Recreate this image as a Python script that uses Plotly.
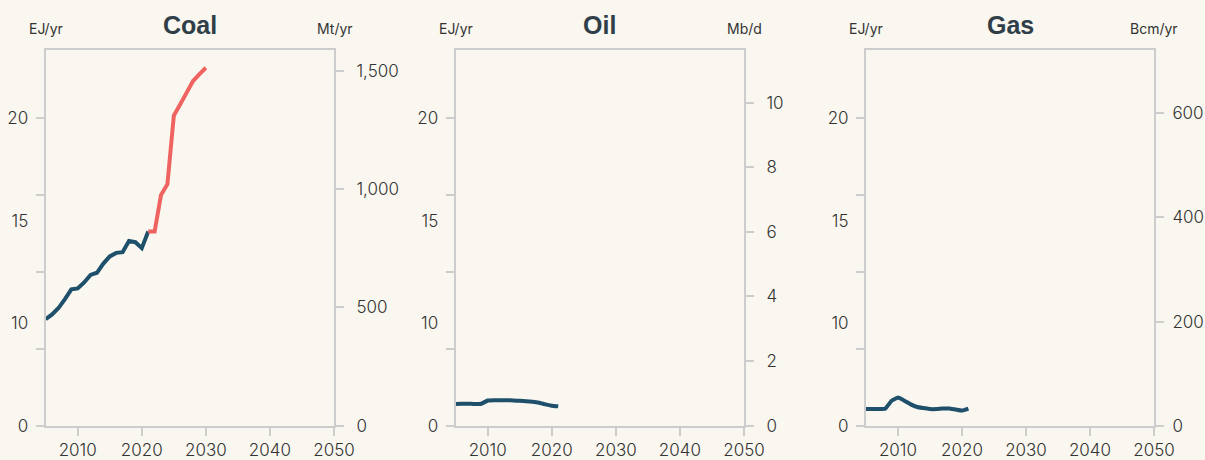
import plotly.graph_objects as go

# ---------------- data ----------------
coal_hist_years = list(range(2005, 2022))
coal_hist_mt = [450, 470, 497, 535, 576, 580, 605, 637, 646, 685, 715, 730, 733, 780, 775, 750, 820]
coal_proj_years = list(range(2021, 2031))
coal_proj_mt = [820, 820, 975, 1020, 1310, 1358, 1407, 1456, 1485, 1512]

oil_years = list(range(2005, 2022))
oil_mbd = [0.67, 0.68, 0.68, 0.67, 0.68, 0.78, 0.79, 0.79, 0.79, 0.78, 0.77, 0.76, 0.74, 0.71, 0.66, 0.62, 0.60]

gas_years = list(range(2005, 2022))
gas_bcm = [32, 32, 32, 32.5, 48, 54, 48, 41, 36, 34, 32, 32, 33, 33, 31, 29, 33]

panel_titles = ["Coal", "Oil", "Gas"]
left_units = ["EJ/yr", "EJ/yr", "EJ/yr"]
right_units = ["Mt/yr", "Mb/d", "Bcm/yr"]
x_ticks = [2010, 2020, 2030, 2040, 2050]
left_tick_marks = [0, 5, 10, 15, 20]
left_label_vals = [0, 20 / 3, 40 / 3, 20]
left_label_text = ["0", "10", "15", "20"]
right_ticks = [[0, 500, 1000, 1500], [0, 2, 4, 6, 8, 10], [0, 200, 400, 600]]
right_ranges = [1587, 11.63, 721.7]
left_range = 24.44

# ---------------- style ----------------
W, H = 1205, 460
BG = "#f9f7ef"
AX = "#cdcdcd"
TXT = "#333333"
TITLE = "#2f3e48"
BLUE = "#1e4f6b"
RED = "#ef6461"
TICKFONT = dict(family="Inter", size=17, color=TXT, weight=300)

x_px = [(45.7, 334.0), (455.7, 744.0), (866.0, 1154.0)]
right_unit_offset = [21, 20, 26]
right_standoff = [9, 9, 5]
y_top, y_bot = 50.0, 425.7
ydom = [(H - y_bot) / H, (H - y_top) / H]

fig = go.Figure()

series = [
    [(coal_hist_years, coal_hist_mt, BLUE), (coal_proj_years, coal_proj_mt, RED)],
    [(oil_years, oil_mbd, BLUE)],
    [(gas_years, gas_bcm, BLUE)],
]

layout = dict(
    width=W, height=H,
    paper_bgcolor=BG, plot_bgcolor=BG,
    margin=dict(l=0, r=0, t=0, b=0, autoexpand=False),
    showlegend=False,
    annotations=[],
)


def yname(k):
    return "yaxis" if k == 1 else f"yaxis{k}"


def yref(k):
    return "y" if k == 1 else f"y{k}"


for i in range(3):
    n = i + 1
    xa = "xaxis" if n == 1 else f"xaxis{n}"
    xref = "x" if n == 1 else f"x{n}"
    k_marks = 3 * i + 1
    k_right = 3 * i + 2
    k_labels = 3 * i + 3
    x0, x1 = x_px[i]
    dom = [x0 / W, x1 / W]

    layout[xa] = dict(
        domain=dom, range=[2005, 2050], anchor=yref(k_marks), automargin=False,
        tickvals=x_ticks, ticks="outside", ticklen=8, tickcolor=AX, tickwidth=2,
        showline=True, linecolor=AX, linewidth=2, mirror=True,
        showgrid=False, zeroline=False, tickfont=TICKFONT, ticklabelstandoff=0,
    )
    # left axis: tick marks only
    layout[yname(k_marks)] = dict(
        domain=ydom, range=[0, left_range], anchor=xref, automargin=False,
        tickmode="array", tickvals=left_tick_marks, showticklabels=False,
        ticks="outside", ticklen=8, tickcolor=AX, tickwidth=1.5,
        showline=True, linecolor=AX, linewidth=2,
        showgrid=False, zeroline=False,
    )
    # right axis
    layout[yname(k_right)] = dict(
        domain=ydom, range=[0, right_ranges[i]], anchor=xref, overlaying=yref(k_marks), side="right",
        automargin=False,
        tickmode="array", tickvals=right_ticks[i], tickformat=",d", ticks="outside", ticklen=8,
        tickcolor=AX, tickwidth=1.5,
        showline=True, linecolor=AX, linewidth=2,
        showgrid=False, zeroline=False, tickfont=TICKFONT, ticklabelstandoff=right_standoff[i],
    )
    # left axis: labels only
    layout[yname(k_labels)] = dict(
        domain=ydom, range=[0, left_range], anchor=xref, overlaying=yref(k_marks), side="left",
        automargin=False,
        tickmode="array", tickvals=left_label_vals, ticktext=left_label_text,
        ticks="outside", ticklen=8, tickcolor="rgba(0,0,0,0)",
        showline=False, showgrid=False, zeroline=False, tickfont=TICKFONT, ticklabelstandoff=5,
    )

    # invisible anchors so the left axes belong to drawn subplots
    for k in (k_marks, k_labels):
        fig.add_trace(go.Scatter(
            x=[2005], y=[0], mode="markers", marker=dict(opacity=0, size=1),
            xaxis=xref, yaxis=yref(k), hoverinfo="skip", showlegend=False,
        ))

    for xs, ys, col in series[i]:
        fig.add_trace(go.Scatter(
            x=xs, y=ys, mode="lines", xaxis=xref, yaxis=yref(k_right),
            line=dict(color=col, width=4, shape="spline",
                      smoothing=0.3 if (col == BLUE and i > 0) else 0),
            hoverinfo="skip",
        ))

    cx = (x0 + x1) / 2
    layout["annotations"].append(dict(
        text=f"<b>{panel_titles[i]}</b>", xref="paper", yref="paper",
        x=cx / W, y=(H - 25) / H, xanchor="center", yanchor="middle", showarrow=False,
        font=dict(family="Liberation Sans", size=25, color=TITLE),
    ))
    layout["annotations"].append(dict(
        text=left_units[i], xref="paper", yref="paper",
        x=(x0 - 19) / W, y=(H - 29) / H, xanchor="left", yanchor="middle", showarrow=False,
        font=dict(family="Inter", size=14, color=TXT),
    ))
    layout["annotations"].append(dict(
        text=right_units[i], xref="paper", yref="paper",
        x=(x1 + right_unit_offset[i]) / W, y=(H - 29) / H,
        xanchor="right", yanchor="middle", showarrow=False,
        font=dict(family="Inter", size=14, color=TXT),
    ))

fig.update_layout(**layout)
fig.write_html("out.html", config={"displayModeBar": False},
               post_script="document.body.style.margin='0';document.body.style.overflow='hidden';")
